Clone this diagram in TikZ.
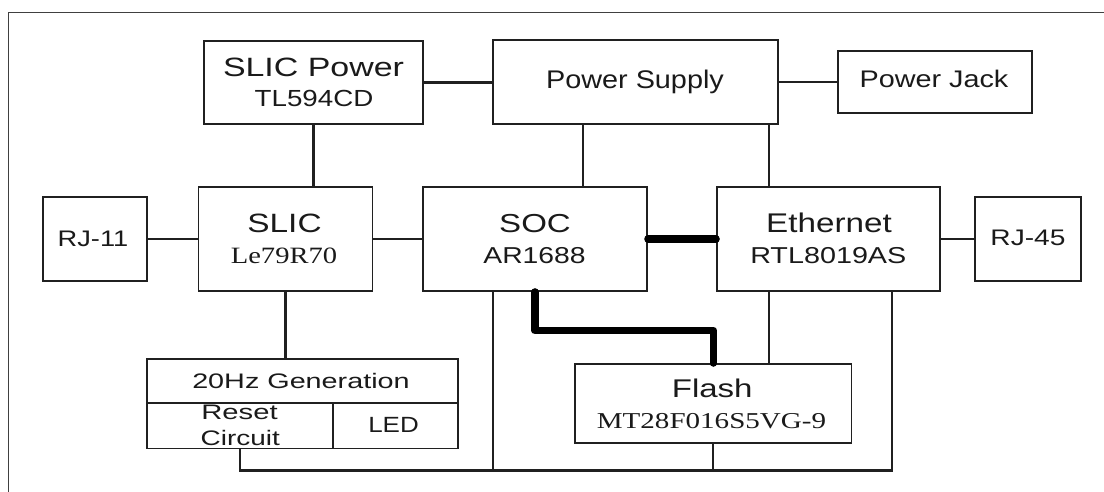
\documentclass[tikz,border=0pt]{standalone}
\usepackage{fontspec}
\usepackage{graphicx}
\setmainfont{Liberation Serif}
\newfontfamily\arialf{Liberation Sans}
\newcommand\A[1]{\arialf\fontsize{#1}{#1}\selectfont}
\newcommand\R[1]{\rmfamily\fontsize{#1}{#1}\selectfont}
\newcommand\sx[2]{\scalebox{#1}[1]{#2}}
\definecolor{linec}{HTML}{202020}
\definecolor{textc}{HTML}{1A1A1A}
\definecolor{framec}{HTML}{404040}
\begin{document}
\begin{tikzpicture}[x=1pt,y=-1pt,
 box/.style={draw=linec, line width=1.9pt, rectangle, inner sep=0pt},
 wire/.style={draw=linec, line width=2.2pt},
 thickwire/.style={draw=black, line width=7.5pt, line cap=round, line join=round},
 txt/.style={anchor=base, inner sep=0pt, text=textc},
]
\useasboundingbox (0,0) rectangle (1104,492);
\fill[white] (0,0) rectangle (1104,492);
\draw[framec, line width=1.6pt] (8.6,492) -- (8.6,12.5) -- (1104,12.5);

% boxes
\node[box, minimum width=219pt, minimum height=83pt] (slicpwr) at (313.5,82.5) {};
\node[box, minimum width=285pt, minimum height=84pt] (psu) at (635.5,82) {};
\node[box, minimum width=194pt, minimum height=62pt] (jack) at (935,82) {};
\node[box, minimum width=104pt, minimum height=84pt] (rj11) at (95,239) {};
\node[box, minimum width=174pt, minimum height=104pt] (slic) at (285.5,239) {};
\node[box, minimum width=224pt, minimum height=104pt] (soc) at (535,239) {};
\node[box, minimum width=223pt, minimum height=104pt] (eth) at (828.5,239) {};
\node[box, minimum width=106pt, minimum height=84pt] (rj45) at (1028,239) {};
\node[box, minimum width=311pt, minimum height=44pt] (gen) at (302.5,381) {};
\node[box, minimum width=186pt, minimum height=45.5pt] (reset) at (240,425.75) {};
\node[box, minimum width=125pt, minimum height=45.5pt] (led) at (395.5,425.75) {};
\node[box, minimum width=276.5pt, minimum height=79pt] (flash) at (713.25,403.5) {};

% connectors
\draw[wire] (slicpwr.east) -- (slicpwr.east -| psu.west);
\draw[wire] (psu.east) -- (psu.east -| jack.west);
\draw[wire] (slicpwr.south) -- (slicpwr.south |- slic.north);
\draw[wire] (rj11.east) -- (rj11.east -| slic.west);
\draw[wire] (slic.east) -- (slic.east -| soc.west);
\draw[thickwire] (soc.east) -- (soc.east -| eth.west);
\draw[wire] (eth.east) -- (eth.east -| rj45.west);
\coordinate (psA) at ([xshift=-52.5pt]psu.south);
\coordinate (psB) at ([xshift=133.5pt]psu.south);
\draw[wire] (psA) -- (psA |- soc.north);
\draw[wire] (psB) -- (psB |- eth.north);
\coordinate (ethA) at ([xshift=-59.5pt]eth.south);
\draw[wire] (ethA) -- (ethA |- flash.north);
\draw[wire] (slic.south) -- (slic.south |- gen.north);
\coordinate (bus) at (0,470.5);
\coordinate (ethB) at ([xshift=63.5pt]eth.south);
\coordinate (socA) at ([xshift=-42pt]soc.south);
\draw[wire] (reset.south) -- (reset.south |- bus) -- (bus -| ethB) -- (ethB);
\draw[wire] (socA) -- (socA |- bus);
\draw[wire] (flash.south) -- (flash.south |- bus);
\coordinate (bend) at (0,330.5);
\draw[thickwire] (soc.south) -- (soc.south |- bend) -- (bend -| flash.north) -- (flash.north);

% texts
\node[txt, font=\A{26.5}] (t1) at (313.5,77) {\sx{1.28}{SLIC Power}};
\node[txt, font=\A{23.3}] (t2) at (314,107) {\sx{1.19}{TL594CD}};
\node[txt, font=\A{25.5}] (t3) at (635,89) {\sx{1.13}{Power Supply}};
\node[txt, font=\A{24}] (t4) at (934,88) {\sx{1.2}{Power Jack}};
\node[txt, font=\A{22.5}] (t5) at (93,246) {\sx{1.21}{RJ-11}};
\node[txt, font=\A{22.5}] (t6) at (1028,245) {\sx{1.25}{RJ-45}};
\node[txt, font=\A{26.5}] (t7) at (284.5,233) {\sx{1.26}{SLIC}};
\node[txt, font=\R{23.4}] (t8) at (284,263) {\sx{1.22}{Le79R70}};
\node[txt, font=\A{26}] (t9) at (535,233) {\sx{1.27}{SOC}};
\node[txt, font=\A{23}] (t10) at (534.5,263) {\sx{1.23}{AR1688}};
\node[txt, font=\A{27}] (t11) at (829,233) {\sx{1.23}{Ethernet}};
\node[txt, font=\A{23}] (t12) at (828.3,263) {\sx{1.25}{RTL8019AS}};
\node[txt, font=\A{21}] (t13) at (301,388) {\sx{1.37}{20Hz Generation}};
\node[txt, font=\A{21}] (t14) at (239.5,419.5) {\sx{1.39}{Reset}};
\node[txt, font=\A{21}] (t15) at (240.3,445) {\sx{1.33}{Circuit}};
\node[txt, font=\A{22}] (t16) at (393.5,432.7) {\sx{1.18}{LED}};
\node[txt, font=\A{25.6}] (t17) at (712.2,397) {\sx{1.29}{Flash}};
\node[txt, font=\R{22.7}] (t18) at (711.5,428) {\sx{1.28}{MT28F016S5VG-9}};
\end{tikzpicture}
\end{document}
